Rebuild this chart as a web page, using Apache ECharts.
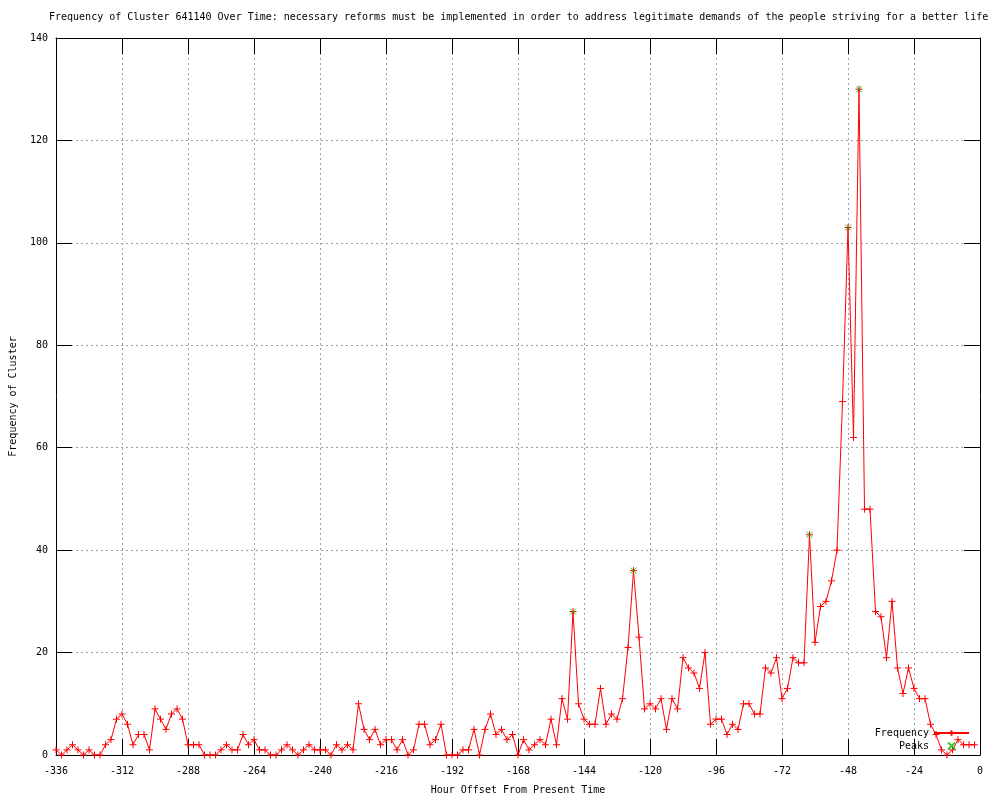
<!DOCTYPE html>
<html>
<head>
<meta charset="utf-8">
<title>Frequency of Cluster 641140</title>
<script src="https://cdn.jsdelivr.net/npm/echarts@6/dist/echarts.min.js"></script>
<style>
  html, body { margin: 0; padding: 0; background: #fff; }
  #main { width: 1000px; height: 800px; }
</style>
</head>
<body>
<div id="main"></div>
<script>
// hour offsets (every 2 hours) and the counts
var hours = [-336,-334,-332,-330,-328,-326,-324,-322,-320,-318,-316,-314,-312,-310,-308,-306,-304,-302,-300,-298,
  -296,-294,-292,-290,-288,-286,-284,-282,-280,-278,-276,-274,-272,-270,-268,-266,-264,-262,-260,-258,
  -256,-254,-252,-250,-248,-246,-244,-242,-240,-238,-236,-234,-232,-230,-228,-226,-224,-222,-220,-218,
  -216,-214,-212,-210,-208,-206,-204,-202,-200,-198,-196,-194,-192,-190,-188,-186,-184,-182,-180,-178,
  -176,-174,-172,-170,-168,-166,-164,-162,-160,-158,-156,-154,-152,-150,-148,-146,-144,-142,-140,-138,
  -136,-134,-132,-130,-128,-126,-124,-122,-120,-118,-116,-114,-112,-110,-108,-106,-104,-102,-100,-98,
  -96,-94,-92,-90,-88,-86,-84,-82,-80,-78,-76,-74,-72,-70,-68,-66,-64,-62,-60,-58,
  -56,-54,-52,-50,-48,-46,-44,-42,-40,-38,-36,-34,-32,-30,-28,-26,-24,-22,-20,-18,
  -16,-14,-12,-10,-8,-6,-4,-2];
var frequency = [1,0,1,2,1,0,1,0,0,2,3,7,8,6,2,4,4,1,9,7,
  5,8,9,7,2,2,2,0,0,0,1,2,1,1,4,2,3,1,1,0,
  0,1,2,1,0,1,2,1,1,1,0,2,1,2,1,10,5,3,5,2,
  3,3,1,3,0,1,6,6,2,3,6,0,0,0,1,1,5,0,5,8,
  4,5,3,4,0,3,1,2,3,2,7,2,11,7,28,10,7,6,6,13,
  6,8,7,11,21,36,23,9,10,9,11,5,11,9,19,17,16,13,20,6,
  7,7,4,6,5,10,10,8,8,17,16,19,11,13,19,18,18,43,22,29,
  30,34,40,69,103,62,130,48,48,28,27,19,30,17,12,17,13,11,11,6,
  4,1,0,1,3,2,2,2];
var peakHours = [-148, -126, -62, -48, -44];
var peakValues = [28, 36, 43, 103, 130];

var xTicks = { min: -336, max: 0, interval: 24 };
var yTicks = { min: 0, max: 140, interval: 20 };

var font = 'DejaVu Sans Mono';
var plusSymbol = 'path://M0,5L10,5M5,0L5,10';
var crossSymbol = 'path://M0,0L10,10M10,0L0,10';

var myChart = echarts.init(document.getElementById('main'), null, { renderer: 'canvas' });

var lineData = [];
for (var i = 0; i < hours.length; i++) lineData.push([hours[i], frequency[i]]);
var peakData = [];
for (var j = 0; j < peakHours.length; j++) peakData.push([peakHours[j], peakValues[j]]);

var tickStyle = { inside: true, length: 16, lineStyle: { color: '#000', width: 1 } };
var gridLine = { show: true, lineStyle: { color: '#a0a0a0', type: [2, 3], width: 1 } };

var option = {
  animation: false,
  backgroundColor: '#fff',
  title: {
    text: 'Frequency of Cluster 641140 Over Time: necessary reforms must be implemented in order to address legitimate demands of the people striving for a better life',
    left: 44,
    top: 7,
    textStyle: { fontFamily: font, fontSize: 10, fontWeight: 'normal', color: '#000' }
  },
  grid: { left: 55, right: 20, top: 38, bottom: 40, containLabel: false },
  legend: {
    orient: 'vertical',
    right: 25,
    top: 723,
    align: 'right',
    itemWidth: 35,
    itemHeight: 7,
    itemGap: 3,
    textStyle: { fontFamily: font, fontSize: 10, color: '#000' },
    data: ['Frequency', 'Peaks']
  },
  xAxis: [{
    type: 'value',
    min: xTicks.min, max: xTicks.max, interval: xTicks.interval,
    name: 'Hour Offset From Present Time',
    nameLocation: 'middle',
    nameGap: 30,
    nameTextStyle: { fontFamily: font, fontSize: 10, color: '#000' },
    axisLine: { show: true, onZero: false, lineStyle: { color: '#000', width: 1 } },
    axisTick: tickStyle,
    axisLabel: { fontFamily: font, fontSize: 10, color: '#000', margin: 11 },
    splitLine: gridLine
  }, {
    type: 'value', position: 'top',
    min: xTicks.min, max: xTicks.max, interval: xTicks.interval,
    axisLine: { show: true, onZero: false, lineStyle: { color: '#000', width: 1 } },
    axisTick: tickStyle,
    axisLabel: { show: false },
    splitLine: { show: false }
  }],
  yAxis: [{
    type: 'value',
    min: yTicks.min, max: yTicks.max, interval: yTicks.interval,
    name: 'Frequency of Cluster',
    nameLocation: 'middle',
    nameGap: 38,
    nameTextStyle: { fontFamily: font, fontSize: 10, color: '#000' },
    axisLine: { show: true, onZero: false, lineStyle: { color: '#000', width: 1 } },
    axisTick: tickStyle,
    axisLabel: { fontFamily: font, fontSize: 10, color: '#000', margin: 8 },
    splitLine: gridLine
  }, {
    type: 'value', position: 'right',
    min: yTicks.min, max: yTicks.max, interval: yTicks.interval,
    axisLine: { show: true, onZero: false, lineStyle: { color: '#000', width: 1 } },
    axisTick: tickStyle,
    axisLabel: { show: false },
    splitLine: { show: false }
  }],
  series: [{
    name: 'Frequency',
    type: 'line',
    data: lineData,
    color: '#ff0000',
    symbol: plusSymbol,
    symbolSize: 7,
    showSymbol: true,
    showAllSymbol: true,
    lineStyle: { color: '#ff0000', width: 1 },
    itemStyle: { color: '#ff0000', borderColor: '#ff0000', borderWidth: 1 },
    emphasis: { disabled: true },
    z: 3
  }, {
    name: 'Peaks',
    type: 'scatter',
    data: peakData,
    color: '#00c000',
    symbol: crossSymbol,
    symbolSize: 6,
    itemStyle: { color: '#00c000', borderColor: '#00c000', borderWidth: 1 },
    emphasis: { disabled: true },
    z: 4
  }]
};

myChart.setOption(option);
window.addEventListener('resize', function () {
  myChart.resize();
});
</script>
</body>
</html>
